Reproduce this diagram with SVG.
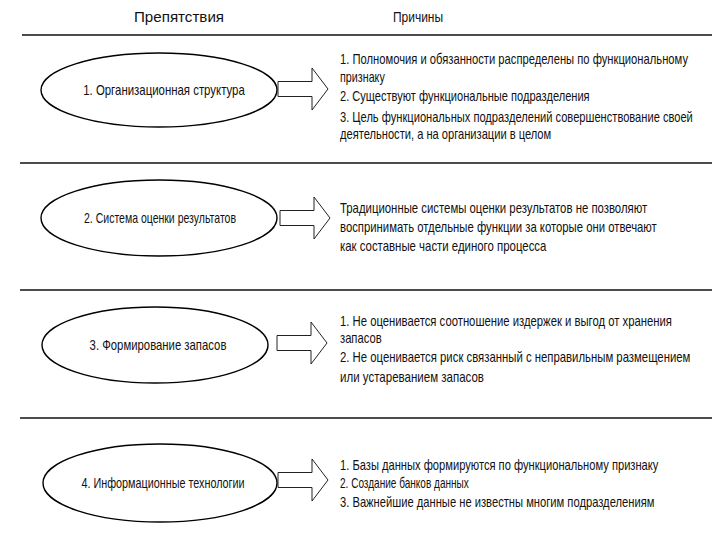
<svg xmlns="http://www.w3.org/2000/svg" width="720" height="540" viewBox="0 0 720 540">
<style>
  text { font-family: "Liberation Sans", Arial, sans-serif; font-size: 14px; fill: #111; }
  .lbl { text-anchor: middle; }
  .node { fill: #fff; stroke: #000; stroke-width: 1.4; }
  .sep { stroke: #111; stroke-width: 1.6; }
  .arrow { fill: #fff; stroke: #222; stroke-width: 1; stroke-linejoin: miter; }
</style>
<defs>
  <path id="blockArrow" d="M0,-7.5 L34,-7.5 L34,-21 L50,0 L34,21 L34,7.5 L0,7.5 Z"/>
</defs>
<rect width="720" height="540" fill="#fff"/>

<g id="header">
  <text class="lbl" transform="translate(179 22) scale(0.85 1)" textLength="106" lengthAdjust="spacingAndGlyphs">Препятствия</text>
  <text class="lbl" transform="translate(418 22) scale(0.85 1)" textLength="59" lengthAdjust="spacingAndGlyphs">Причины</text>
</g>

<g id="separators">
  <line class="sep" x1="22" y1="35" x2="712" y2="35"/>
  <line class="sep" x1="20" y1="163" x2="712" y2="163"/>
  <line class="sep" x1="20" y1="290" x2="712" y2="290"/>
  <line class="sep" x1="20" y1="418" x2="712" y2="418"/>
</g>

<g id="node1">
  <ellipse class="node" cx="159" cy="90" rx="118" ry="37"/>
  <text class="lbl" transform="translate(164 95) scale(0.8 1)" textLength="202" lengthAdjust="spacingAndGlyphs">1. Организационная структура</text>
</g>
<g id="node2">
  <ellipse class="node" cx="159" cy="218" rx="118" ry="38"/>
  <text class="lbl" transform="translate(160 223) scale(0.8 1)" textLength="190" lengthAdjust="spacingAndGlyphs">2. Система оценки результатов</text>
</g>
<g id="node3">
  <ellipse class="node" cx="155" cy="345" rx="113" ry="38"/>
  <text class="lbl" transform="translate(158 350) scale(0.8 1)" textLength="171" lengthAdjust="spacingAndGlyphs">3. Формирование запасов</text>
</g>
<g id="node4">
  <ellipse class="node" cx="160" cy="483" rx="117" ry="39"/>
  <text class="lbl" transform="translate(163 488) scale(0.8 1)" textLength="204" lengthAdjust="spacingAndGlyphs">4. Информационные технологии</text>
</g>

<g id="connectors">
  <use href="#blockArrow" class="arrow" transform="translate(278,89)"/>
  <use href="#blockArrow" class="arrow" transform="translate(280,218)"/>
  <use href="#blockArrow" class="arrow" transform="translate(277,343)"/>
  <use href="#blockArrow" class="arrow" transform="translate(278,480)"/>
</g>

<g id="reasons1" transform="translate(340 0) scale(0.8 1)">
  <text x="0" y="64" textLength="435" lengthAdjust="spacingAndGlyphs">1. Полномочия и обязанности распределены по функциональному</text>
  <text x="0" y="82" textLength="56" lengthAdjust="spacingAndGlyphs">признаку</text>
  <text x="0" y="101" textLength="312" lengthAdjust="spacingAndGlyphs">2. Существуют функциональные подразделения</text>
  <text x="0" y="122" textLength="441" lengthAdjust="spacingAndGlyphs">3. Цель функциональных подразделений совершенствование своей</text>
  <text x="0" y="139" textLength="264" lengthAdjust="spacingAndGlyphs">деятельности, а на организации в целом</text>
</g>
<g id="reasons2" transform="translate(340 0) scale(0.8 1)">
  <text x="0" y="213" textLength="384" lengthAdjust="spacingAndGlyphs">Традиционные системы оценки результатов не позволяют</text>
  <text x="0" y="232" textLength="396" lengthAdjust="spacingAndGlyphs">воспринимать отдельные функции за которые они отвечают</text>
  <text x="0" y="251" textLength="258" lengthAdjust="spacingAndGlyphs">как составные части единого процесса</text>
</g>
<g id="reasons3" transform="translate(340 0) scale(0.8 1)">
  <text x="0" y="326" textLength="415" lengthAdjust="spacingAndGlyphs">1. Не оценивается соотношение издержек и выгод от хранения</text>
  <text x="0" y="343" textLength="52" lengthAdjust="spacingAndGlyphs">запасов</text>
  <text x="0" y="362" textLength="438" lengthAdjust="spacingAndGlyphs">2. Не оценивается риск связанный с неправильным размещением</text>
  <text x="0" y="382" textLength="180" lengthAdjust="spacingAndGlyphs">или устареванием запасов</text>
</g>
<g id="reasons4" transform="translate(340 0) scale(0.8 1)">
  <text x="0" y="470" textLength="398" lengthAdjust="spacingAndGlyphs">1. Базы данных формируются по функциональному признаку</text>
  <text x="0" y="488" textLength="161" lengthAdjust="spacingAndGlyphs">2. Создание банков данных</text>
  <text x="0" y="507" textLength="393" lengthAdjust="spacingAndGlyphs">3. Важнейшие данные не известны многим подразделениям</text>
</g>
</svg>
